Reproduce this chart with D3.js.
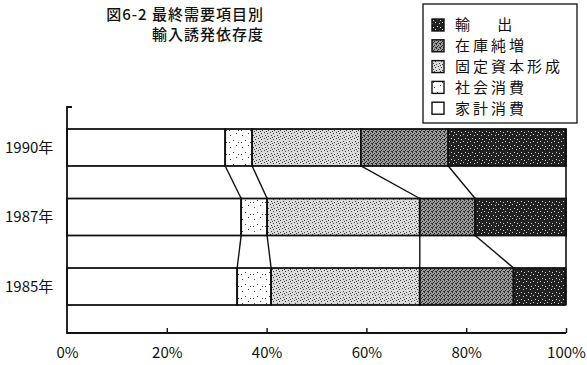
<!DOCTYPE html>
<html>
<head>
<meta charset="utf-8">
<script src="https://cdn.jsdelivr.net/npm/d3@7"></script>
<style>
  html, body { margin: 0; padding: 0; background: #fff; }
  svg { display: block; }
  text { font-family: "Noto Sans CJK JP", "Noto Sans", sans-serif; fill: #111; }
</style>
</head>
<body>
<svg id="chart" width="587" height="365"></svg>
<script>
// 最終需要項目別 輸入誘発依存度 (%)
const years = ["1990年", "1987年", "1985年"];
const components = ["家計消費", "社会消費", "固定資本形成", "在庫純増", "輸出"];
const household = [31.7, 34.9, 34.1];
const social    = [5.4, 5.2, 6.8];
const capital   = [21.8, 30.6, 29.8];
const inventory = [17.5, 11.1, 18.8];
const exportsV  = [23.6, 18.2, 10.4];
const tickValues = [0, 20, 40, 60, 80, 100];
const titleLines = ["図6-2 最終需要項目別", "輸入誘発依存度"];
const legendOrder = ["輸出", "在庫純増", "固定資本形成", "社会消費", "家計消費"];
const legendLabels = { "輸出": "輸　 出", "在庫純増": "在庫純増", "固定資本形成": "固定資本形成", "社会消費": "社会消費", "家計消費": "家計消費" };

const seriesValues = [household, social, capital, inventory, exportsV];
const rows = years.map((y, i) => {
  const r = { year: y };
  components.forEach((c, k) => { r[c] = seriesValues[k][i]; });
  return r;
});

const svg = d3.select("#chart");
const defs = svg.append("defs");

// stipple textures for each component
function stipple(id, base, dotColor, size, dots, r) {
  const p = defs.append("pattern").attr("id", id)
    .attr("patternUnits", "userSpaceOnUse").attr("width", size).attr("height", size);
  p.append("rect").attr("width", size).attr("height", size).attr("fill", base);
  dots.forEach(([x, y]) => p.append("rect").attr("x", x).attr("y", y)
    .attr("width", r).attr("height", r).attr("fill", dotColor));
}
stipple("pat-social", "#ffffff", "#444", 12, [[2,3],[8,1],[5,8],[10,10],[1,10]], 1);
stipple("pat-capital", "#dadada", "#444", 6, [[0,0],[3,1],[1,3],[4,4],[2,5]], 1);
stipple("pat-inventory", "#9a9a9a", "#2a2a2a", 4, [[0,0],[2,1],[1,2],[3,3],[0,3]], 1);
stipple("pat-export", "#222222", "#cfcfcf", 7, [[1,1],[5,2],[3,5],[6,6]], 1);

const fills = {
  "家計消費": "#ffffff",
  "社会消費": "url(#pat-social)",
  "固定資本形成": "url(#pat-capital)",
  "在庫純増": "url(#pat-inventory)",
  "輸出": "url(#pat-export)"
};

const x = d3.scaleLinear().domain([0, 100]).range([67, 566]);
const y = d3.scaleBand().domain(years).range([129, 305]).paddingInner(0.468).paddingOuter(0);

const stack = d3.stack().keys(components);
const series = stack(rows);

// bar segments
const g = svg.append("g");
series.forEach(s => {
  g.selectAll(null).data(s).enter().append("rect")
    .attr("x", d => x(d[0]))
    .attr("y", d => y(d.data.year))
    .attr("width", d => x(d[1]) - x(d[0]))
    .attr("height", y.bandwidth())
    .attr("fill", fills[s.key])
    .attr("stroke", "#111")
    .attr("stroke-width", 1.8);
});

// connecting lines between segment boundaries of neighbouring bars
for (let i = 0; i < years.length - 1; i++) {
  for (let k = 0; k < components.length - 1; k++) {
    const upper = series[k][i][1], lower = series[k][i + 1][1];
    g.append("line")
      .attr("x1", x(upper)).attr("y1", y(years[i]) + y.bandwidth())
      .attr("x2", x(lower)).attr("y2", y(years[i + 1]))
      .attr("stroke", "#111").attr("stroke-width", 1.4);
  }
}

// right frame edge between bars
g.append("line")
  .attr("x1", x(100)).attr("x2", x(100))
  .attr("y1", y(years[0])).attr("y2", y(years[years.length - 1]) + y.bandwidth())
  .attr("stroke", "#111").attr("stroke-width", 1.6);

// axes
const axisY = 333;
const topY = 107;
svg.append("path")
  .attr("d", `M${x(0) + 5},${topY}H${x(0)}V${axisY}H${x(100)}`)
  .attr("fill", "none").attr("stroke", "#111").attr("stroke-width", 1.8);

const xAxis = d3.axisBottom(x).tickValues(tickValues).tickSize(0).tickFormat(d => d + "%");
const ax = svg.append("g").attr("transform", `translate(0,${axisY})`).call(xAxis);
ax.select(".domain").remove();
ax.selectAll(".tick line").remove();
ax.selectAll(".tick").filter(d => d > 0).append("line")
  .attr("y1", 0).attr("y2", -5).attr("stroke", "#111").attr("stroke-width", 1.4);
ax.selectAll(".tick text")
  .attr("y", 14).attr("dy", "0.71em")
  .style("font-size", "15px").style("font-family", "\"Noto Sans CJK JP\", sans-serif")
  .attr("fill", "#111");

// year labels
svg.append("g").selectAll("text").data(years).enter().append("text")
  .attr("x", 5)
  .attr("y", d => y(d) + y.bandwidth() / 2)
  .attr("dy", "0.36em")
  .style("font-size", "15px")
  .text(d => d);

// title
svg.append("g").selectAll("text").data(titleLines).enter().append("text")
  .attr("x", 264)
  .attr("y", (d, i) => 15 + i * 20)
  .attr("dy", "0.36em")
  .attr("text-anchor", "end")
  .style("font-size", "15px")
  .style("font-weight", "500")
  .style("letter-spacing", "1px")
  .text(d => d);

// legend
const lg = svg.append("g");
lg.append("rect").attr("x", 423).attr("y", 4).attr("width", 154).attr("height", 119)
  .attr("fill", "#fff").attr("stroke", "#111").attr("stroke-width", 1.3);
legendOrder.forEach((key, i) => {
  const cy = 25 + i * 20.8;
  lg.append("rect").attr("x", 432).attr("y", cy - 6).attr("width", 12).attr("height", 12)
    .attr("fill", fills[key]).attr("stroke", "#111").attr("stroke-width", 1.4);
  lg.append("text").attr("x", 455).attr("y", cy).attr("dy", "0.36em")
    .style("font-size", "15px").style("letter-spacing", "3px")
    .text(legendLabels[key]);
});
</script>
</body>
</html>
